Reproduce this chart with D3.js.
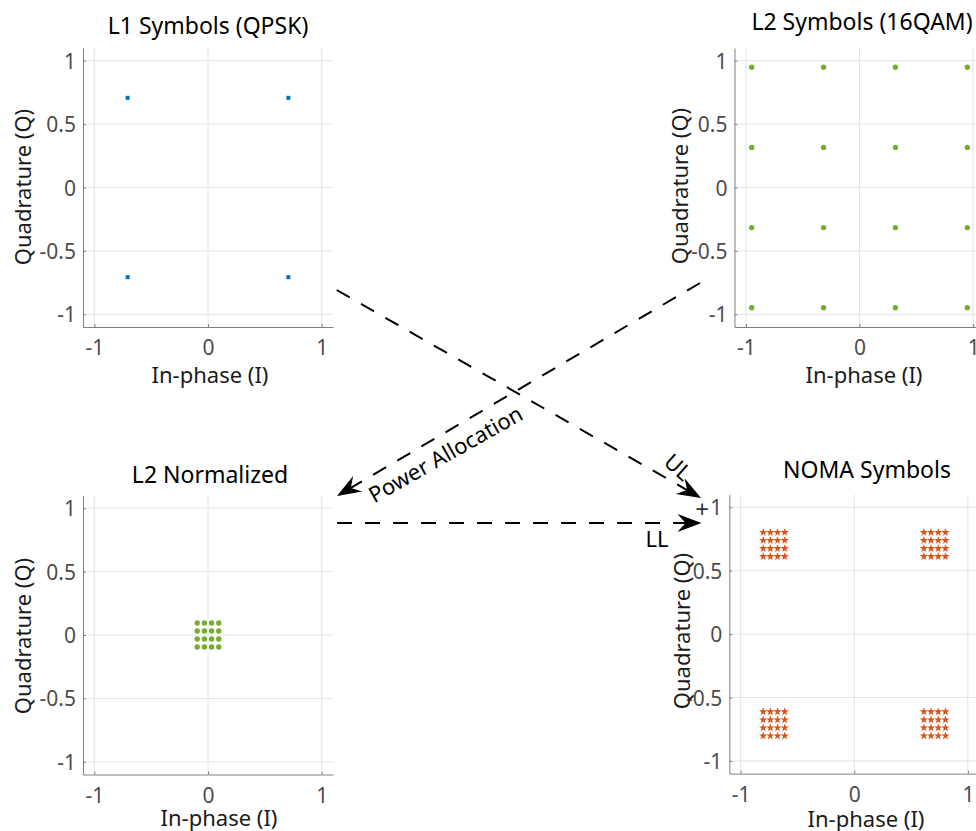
<!DOCTYPE html>
<html>
<head>
<meta charset="utf-8">
<script src="https://cdn.jsdelivr.net/npm/d3@7"></script>
<style>
  body { margin: 0; background: #fff; }
  svg { display: block; font-family: "Noto Sans", sans-serif; }
</style>
</head>
<body>
<div id="chart"></div>
<script>
// ticks shared by all four constellation panels
const xTicks = [-1, 0, 1];
const yTicks = [-1, -0.5, 0, 0.5, 1];

// L1 user, QPSK
const qpskPoints = [[-0.7071, 0.7071], [0.7071, 0.7071], [-0.7071, -0.7071], [0.7071, -0.7071]];

// L2 user, 16QAM (unit average power)
const qamPoints = [
    [-0.9487, 0.9487], [-0.3162, 0.9487], [0.3162, 0.9487], [0.9487, 0.9487],
    [-0.9487, 0.3162], [-0.3162, 0.3162], [0.3162, 0.3162], [0.9487, 0.3162],
    [-0.9487, -0.3162], [-0.3162, -0.3162], [0.3162, -0.3162], [0.9487, -0.3162],
    [-0.9487, -0.9487], [-0.3162, -0.9487], [0.3162, -0.9487], [0.9487, -0.9487]
];

// L2 after power allocation
const l2NormPoints = [
    [-0.0949, 0.0949], [-0.0316, 0.0949], [0.0316, 0.0949], [0.0949, 0.0949],
    [-0.0949, 0.0316], [-0.0316, 0.0316], [0.0316, 0.0316], [0.0949, 0.0316],
    [-0.0949, -0.0316], [-0.0316, -0.0316], [0.0316, -0.0316], [0.0949, -0.0316],
    [-0.0949, -0.0949], [-0.0316, -0.0949], [0.0316, -0.0949], [0.0949, -0.0949]
];

// superposed NOMA symbols
const nomaPoints = [
    [-0.8020, 0.8020], [-0.7387, 0.8020], [-0.6755, 0.8020], [-0.6122, 0.8020],
    [-0.8020, 0.7387], [-0.7387, 0.7387], [-0.6755, 0.7387], [-0.6122, 0.7387],
    [-0.8020, 0.6755], [-0.7387, 0.6755], [-0.6755, 0.6755], [-0.6122, 0.6755],
    [-0.8020, 0.6122], [-0.7387, 0.6122], [-0.6755, 0.6122], [-0.6122, 0.6122],
    [0.6122, 0.8020], [0.6755, 0.8020], [0.7387, 0.8020], [0.8020, 0.8020],
    [0.6122, 0.7387], [0.6755, 0.7387], [0.7387, 0.7387], [0.8020, 0.7387],
    [0.6122, 0.6755], [0.6755, 0.6755], [0.7387, 0.6755], [0.8020, 0.6755],
    [0.6122, 0.6122], [0.6755, 0.6122], [0.7387, 0.6122], [0.8020, 0.6122],
    [-0.8020, -0.6122], [-0.7387, -0.6122], [-0.6755, -0.6122], [-0.6122, -0.6122],
    [-0.8020, -0.6755], [-0.7387, -0.6755], [-0.6755, -0.6755], [-0.6122, -0.6755],
    [-0.8020, -0.7387], [-0.7387, -0.7387], [-0.6755, -0.7387], [-0.6122, -0.7387],
    [-0.8020, -0.8020], [-0.7387, -0.8020], [-0.6755, -0.8020], [-0.6122, -0.8020],
    [0.6122, -0.6122], [0.6755, -0.6122], [0.7387, -0.6122], [0.8020, -0.6122],
    [0.6122, -0.6755], [0.6755, -0.6755], [0.7387, -0.6755], [0.8020, -0.6755],
    [0.6122, -0.7387], [0.6755, -0.7387], [0.7387, -0.7387], [0.8020, -0.7387],
    [0.6122, -0.8020], [0.6755, -0.8020], [0.7387, -0.8020], [0.8020, -0.8020]
];

const titles = ["L1 Symbols (QPSK)", "L2 Symbols (16QAM)", "L2 Normalized", "NOMA Symbols"];
const xLabel = "In-phase (I)";
const yLabel = "Quadrature (Q)";

const width = 976, height = 831;
const plotW = 250, plotH = 279;

// where each panel sits on the page
const panels = [
    { title: titles[0], data: qpskPoints, marker: "square", color: "#0072BD",
      left: 83, top: 48, titleX: 208, titleY: 34, xlX: 210, xlY: 383, ylX: 31, ylY: 187 },
    { title: titles[1], data: qamPoints, marker: "dot", color: "#77AC30",
      left: 734.5, top: 48, titleX: 862, titleY: 29.5, xlX: 864, xlY: 383, ylX: 688, ylY: 186 },
    { title: titles[2], data: l2NormPoints, marker: "dot", color: "#77AC30",
      left: 83, top: 495.5, titleX: 210, titleY: 483, xlX: 219, xlY: 825.5, ylX: 31, ylY: 636 },
    { title: titles[3], data: nomaPoints, marker: "star", color: "#D95319",
      left: 729.3, top: 494.6, titleX: 867, titleY: 478, xlX: 866, xlY: 826.5, ylX: 690, ylY: 631 }
];

const svg = d3.select("#chart").append("svg")
    .attr("width", width)
    .attr("height", height);

panels.forEach(p => {
    const x = d3.scaleLinear().domain([-1.1, 1.1]).range([0, plotW]);
    const y = d3.scaleLinear().domain([-1.1, 1.1]).range([plotH, 0]);

    const g = svg.append("g").attr("transform", `translate(${p.left},${p.top})`);

    // grid
    g.selectAll(".vgrid").data(xTicks).enter().append("line")
        .attr("x1", d => x(d)).attr("x2", d => x(d))
        .attr("y1", 0).attr("y2", plotH)
        .attr("stroke", "#e4e4e4").attr("stroke-width", 1);
    g.selectAll(".hgrid").data(yTicks).enter().append("line")
        .attr("x1", 0).attr("x2", plotW)
        .attr("y1", d => y(d)).attr("y2", d => y(d))
        .attr("stroke", "#e4e4e4").attr("stroke-width", 1);

    // axes (ticks point inward, like matlab)
    const xAxis = g.append("g")
        .attr("transform", `translate(0,${plotH})`)
        .call(d3.axisBottom(x).tickValues(xTicks).tickFormat(d => String(d))
            .tickSize(-3).tickSizeOuter(0).tickPadding(13.5));
    const yAxis = g.append("g")
        .call(d3.axisLeft(y).tickValues(yTicks).tickFormat(d => String(d))
            .tickSize(-3).tickSizeOuter(0).tickPadding(7));

    [xAxis, yAxis].forEach(a => {
        a.select(".domain").attr("stroke", "#808080");
        a.selectAll(".tick line").attr("stroke", "#808080");
        a.selectAll(".tick text")
            .attr("fill", "#4d4d4d")
            .style("font-size", "21px")
            .style("font-family", "'Noto Sans', sans-serif");
    });
    yAxis.selectAll(".tick text").attr("dy", "0.36em");

    // markers
    if (p.marker === "square") {
        g.selectAll(".pt").data(p.data).enter().append("rect")
            .attr("x", d => x(d[0]) - 2).attr("y", d => y(d[1]) - 2)
            .attr("width", 4).attr("height", 4)
            .attr("fill", p.color);
    } else if (p.marker === "dot") {
        g.selectAll(".pt").data(p.data).enter().append("circle")
            .attr("cx", d => x(d[0])).attr("cy", d => y(d[1]))
            .attr("r", 2.7)
            .attr("fill", p.color);
    } else {
        const star = d3.symbol().type(d3.symbolStar).size(22);
        g.selectAll(".pt").data(p.data).enter().append("path")
            .attr("d", star)
            .attr("transform", d => `translate(${x(d[0])},${y(d[1])})`)
            .attr("fill", p.color);
    }

    // title and labels
    svg.append("text")
        .attr("x", p.titleX).attr("y", p.titleY)
        .attr("text-anchor", "middle")
        .style("font-size", "23px").attr("fill", "#000")
        .text(p.title);
    svg.append("text")
        .attr("x", p.xlX).attr("y", p.xlY)
        .attr("text-anchor", "middle")
        .style("font-size", "22px").attr("fill", "#1a1a1a")
        .text(xLabel);
    svg.append("text")
        .attr("transform", `translate(${p.ylX},${p.ylY}) rotate(-90)`)
        .attr("text-anchor", "middle")
        .style("font-size", "22px").attr("fill", "#1a1a1a")
        .text(yLabel);
});

// dashed annotation arrows between panels
const arrows = [
    { from: [336.7, 290], to: [701, 498] },     // UL
    { from: [700, 283], to: [337, 496] },       // power allocation
    { from: [337, 523], to: [701.5, 523] }      // LL
];
const headLen = 24, headHalf = 9, notch = 8;

arrows.forEach(a => {
    const dx = a.to[0] - a.from[0], dy = a.to[1] - a.from[1];
    const len = Math.hypot(dx, dy);
    const ux = dx / len, uy = dy / len;
    const nx = -uy, ny = ux;
    const bx = a.to[0] - ux * headLen, by = a.to[1] - uy * headLen;

    svg.append("line")
        .attr("x1", a.from[0]).attr("y1", a.from[1])
        .attr("x2", bx + ux * notch).attr("y2", by + uy * notch)
        .attr("stroke", "#000").attr("stroke-width", 2)
        .attr("stroke-dasharray", "15,13");

    const head = [
        a.to,
        [bx + nx * headHalf, by + ny * headHalf],
        [bx + ux * notch, by + uy * notch],
        [bx - nx * headHalf, by - ny * headHalf]
    ];
    svg.append("path")
        .attr("d", "M" + head.map(q => q.join(",")).join("L") + "Z")
        .attr("fill", "#000");
});

const notes = [
    { text: "Power Allocation", x: 449.5, y: 461, rot: -29.5, dy: "0", size: 22 },
    { text: "UL", x: 678, y: 467, rot: 42, dy: "0.36em", size: 22 },
    { text: "LL", x: 657, y: 539, rot: 0, dy: "0.36em", size: 22 },
    { text: "+", x: 702, y: 509, rot: 0, dy: "0.36em", size: 24 }
];
notes.forEach(n => {
    svg.append("text")
        .attr("transform", `translate(${n.x},${n.y}) rotate(${n.rot})`)
        .attr("text-anchor", "middle")
        .attr("dy", n.dy)
        .style("font-size", n.size + "px")
        .attr("fill", n.text === "+" ? "#333" : "#000")
        .text(n.text);
});
</script>
</body>
</html>
